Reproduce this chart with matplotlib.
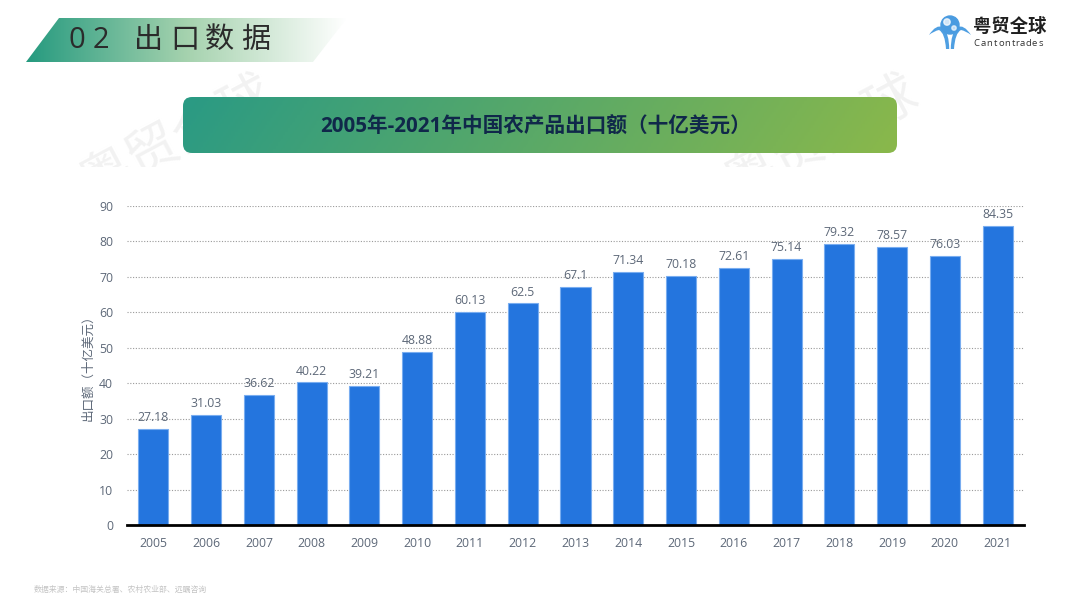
import numpy as np
import matplotlib
matplotlib.use("Agg")
import matplotlib.pyplot as plt
from matplotlib.colors import LinearSegmentedColormap
from matplotlib.patches import Circle, FancyBboxPatch, PathPatch, Polygon, Rectangle
from matplotlib.path import Path

plt.rcParams['font.family'] = ['Open Sans', 'Noto Sans CJK SC', 'DejaVu Sans']

years = [2005, 2006, 2007, 2008, 2009, 2010, 2011, 2012, 2013,
         2014, 2015, 2016, 2017, 2018, 2019, 2020, 2021]
values = [27.18, 31.03, 36.62, 40.22, 39.21, 48.88, 60.13, 62.5, 67.1,
          71.34, 70.18, 72.61, 75.14, 79.32, 78.57, 76.03, 84.35]
value_labels = ['27.18', '31.03', '36.62', '40.22', '39.21', '48.88', '60.13', '62.5', '67.1',
                '71.34', '70.18', '72.61', '75.14', '79.32', '78.57', '76.03', '84.35']
yticks = [0, 10, 20, 30, 40, 50, 60, 70, 80, 90]

W, H = 1080, 608
fig = plt.figure(figsize=(W / 100, H / 100), dpi=100, facecolor='white')

# overlay in pixel coordinates for the slide decoration
bg = fig.add_axes([0, 0, 1, 1], zorder=0)
bg.set_xlim(0, W)
bg.set_ylim(H, 0)
bg.axis('off')

# watermarks, cut off just below the title box
for x0, y0 in [(178, 140), (823, 140)]:
    bg.text(x0, y0, '粤贸全球', fontsize=38, color='#f2f2f2', rotation=28,
            ha='center', va='center', zorder=1)
bg.add_patch(Rectangle((0, 167), W, 60, facecolor='white', edgecolor='none', zorder=1.5))

# section banner
banner_cmap = LinearSegmentedColormap.from_list('banner', ['#259a7f', '#a5d2ae', '#ffffff'])
im = bg.imshow(np.linspace(0, 1, 256).reshape(1, -1), extent=(26, 347, 62, 18),
               cmap=banner_cmap, aspect='auto', zorder=2)
im.set_clip_path(Polygon([(26, 62), (59, 18), (347, 18), (313, 62)], transform=bg.transData))
for cx, ch in zip([69, 93, 134, 170, 205, 241], '02出口数据'):
    bg.text(cx, 41, ch, fontsize=21, color='#2b2b2b', ha='left', va='center', zorder=3)

# title box
xx, yy = np.meshgrid(np.linspace(0, 1, 300), np.linspace(0, 1, 40))
title_cmap = LinearSegmentedColormap.from_list('title', ['#2a9a84', '#8ab84b'])
im2 = bg.imshow(np.clip(xx * 0.95 + yy * 0.05, 0, 1), extent=(183, 897, 153, 97),
                cmap=title_cmap, aspect='auto', zorder=2)
box = FancyBboxPatch((191, 105), 698, 40, boxstyle='round,pad=8,rounding_size=9',
                     transform=bg.transData)
im2.set_clip_path(box)
bg.text(535.5, 127, '2005年-2021年中国农产品出口额（十亿美元）', fontsize=14.85, fontweight='bold',
        color='#10284a', ha='center', va='center', zorder=3)

# logo
bg.add_patch(Circle((950, 25), 9, color='#4a9be0', zorder=4))
bg.add_patch(Circle((947, 22), 3.2, color='#ffffff', alpha=0.75, zorder=5))
bg.add_patch(Circle((954, 28), 2.2, color='#ffffff', alpha=0.65, zorder=5))
for sx in (-1, 1):
    wing = Path([(950 + sx * 21, 35), (950 + sx * 14, 24), (950 + sx * 7, 27),
                 (950 + sx * 0.8, 34), (950 + sx * 0.8, 49),
                 (950 + sx * 4, 49),
                 (950 + sx * 5, 33), (950 + sx * 11, 30),
                 (950 + sx * 16, 31), (950 + sx * 21, 35)],
                [Path.MOVETO, Path.CURVE3, Path.CURVE3, Path.CURVE3, Path.CURVE3,
                 Path.LINETO, Path.CURVE3, Path.CURVE3, Path.CURVE3, Path.CURVE3])
    bg.add_patch(PathPatch(wing, facecolor='#4f9fe2', edgecolor='none', zorder=3))
bg.text(973, 27, '粤贸全球', fontsize=13.2, fontweight='bold', color='#1f1f1f', ha='left', va='center', zorder=3)
for i, ch in enumerate('Cantontrades'):
    bg.text(973.5 + [0, 7, 13, 20, 25, 31, 38, 42, 46, 52, 58, 65][i], 44, ch, fontsize=6.8,
            color='#333333', ha='left', va='center', zorder=3)

# footer
bg.text(34, 590, '数据来源：中国海关总署、农村农业部、远瞩咨询', fontsize=5.7, color='#c4c4c4',
        ha='left', va='center', zorder=3)

# bar chart
ax = fig.add_axes([127 / W, 1 - 525 / H, (1024 - 127) / W, (525 - 206) / H], zorder=2)
ax.patch.set_alpha(0)
pos = np.arange(len(years))
ax.bar(pos, values, width=0.57, color='#2475de', edgecolor='#79adf0', linewidth=0.8, zorder=3)
for p, v, lab in zip(pos, values, value_labels):
    ax.annotate(lab, (p, v), xytext=(0, 3.5), textcoords='offset points', ha='center', va='bottom',
                fontsize=8.8, color='#5d6878', zorder=4)
ax.set_xlim(-0.5, 16.5)
ax.set_ylim(0, 90)
ax.set_xticks(pos, [str(y) for y in years])
ax.set_yticks(yticks)
ax.tick_params(axis='both', length=0, labelsize=8.8, labelcolor='#5d6878')
ax.tick_params(axis='x', pad=8.3)
ax.tick_params(axis='y', pad=10)
ax.grid(axis='y', linestyle=(0, (1, 1.5)), linewidth=0.8, color='#9a9a9a', zorder=1)
ax.set_axisbelow(True)
for side in ['top', 'right', 'left']:
    ax.spines[side].set_visible(False)
ax.spines['bottom'].set_linewidth(2)
ax.spines['bottom'].set_color('#000000')
ax.spines['bottom'].set_zorder(5)
bg.text(88, 365, '出口额（十亿美元）', fontsize=9, color='#5d6878', rotation=90,
        ha='center', va='center', zorder=3)

fig.savefig('out.png', dpi=100)
